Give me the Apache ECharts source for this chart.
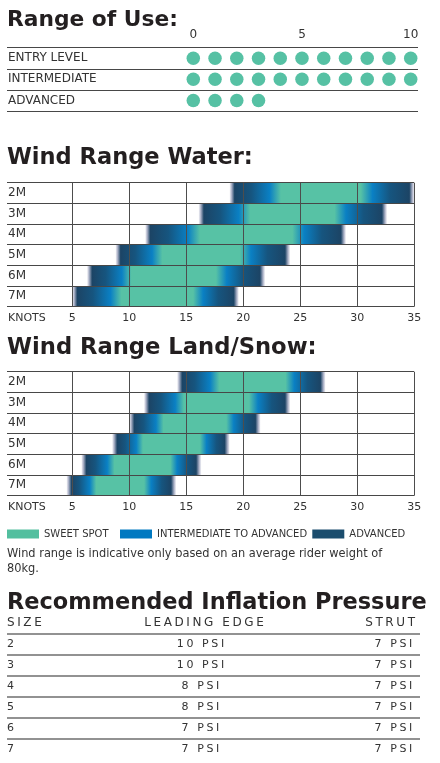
<!DOCTYPE html>
<html><head><meta charset="utf-8">
<script src="https://cdn.jsdelivr.net/npm/echarts@6/dist/echarts.min.js"></script>
<style>html,body{margin:0;padding:0;background:#fff}#wrap{position:relative;width:440px;height:763px}#c{position:absolute;left:0;top:0;width:440px;height:763px}#t{position:absolute;left:0;top:612px;width:440px;height:151px}</style>
</head><body><div id="wrap"><div id="c"></div><div id="t"></div></div>
<script>
// ---------- DATA ----------
const ROU_LEVELS = ['ENTRY LEVEL', 'INTERMEDIATE', 'ADVANCED'];
const ROU_VALUES = [10, 10, 3];          // dots from 0 up to this value
const KITE_SIZES = ['2M', '3M', '4M', '5M', '6M', '7M'];
// Water wind ranges (knots)
const WATER_START       = [18.8, 16.1, 11.4, 8.8, 6.3, 5.0];
const WATER_SWEET_START = [23.3, 20.6, 16.2, 12.9, 10.2, 9.3];
const WATER_SWEET_END   = [30.3, 28.0, 24.3, 19.7, 17.6, 15.6];
const WATER_END         = [35.0, 32.6, 29.0, 24.1, 21.9, 19.6];
// Land / snow wind ranges (knots)
const LAND_START       = [14.2, 11.3, 10.0, 8.5, 5.8, 4.5];
const LAND_SWEET_START = [17.9, 14.8, 13.0, 11.2, 8.7, 7.1];
const LAND_SWEET_END   = [23.7, 20.5, 18.5, 16.2, 13.6, 11.3];
const LAND_END         = [27.2, 24.1, 21.5, 18.8, 16.3, 14.1];
const LEGEND_NAMES = ['SWEET SPOT', 'INTERMEDIATE TO ADVANCED', 'ADVANCED'];
const TABLE_SIZES = ['2', '3', '4', '5', '6', '7'];
const LEADING_EDGE_PSI = [10, 10, 8, 8, 7, 7];
const STRUT_PSI = [7, 7, 7, 7, 7, 7];
const TABLE_HEADERS = ['SIZE', 'LEADING EDGE', 'STRUT'];
const NOTE = 'Wind range is indicative only based on an average rider weight of\n80kg.';

// ---------- STYLE ----------
const FONT = '"DejaVu Sans", sans-serif';
const TEAL = '#57c2a5', BLUE = '#0a80c4', NAVY = '#1b4d6e';
const LINE = '#474747', TXT = '#333333', TITLE = '#231f20';
const TRACK = 2.6; // letter spacing used in the table

const mctx = document.createElement('canvas').getContext('2d');
function fitSize(text, weight, target) {
  mctx.font = weight + ' 100px "DejaVu Sans"';
  return 100 * target / mctx.measureText(text).width;
}

function barStops(xs, xt1, xt2, xe) {
  const W = xe - xs;
  const L = xt1 - xs, R = xe - xt2;
  const raw = [
    [xs, '#f4f4f8'],
    [xs + 2, '#aab0c6'],
    [xs + 5, '#1c4465'],
    [xs + Math.max(6, L * 0.42), '#16557f'],
    [xs + L * 0.78, BLUE],
    [xt1, TEAL],
    [xt2, TEAL],
    [xt2 + R * 0.22, BLUE],
    [xe - Math.max(6, R * 0.45), '#16557f'],
    [xe - 5, '#1c4465'],
    [xe - 2, '#aab0c6'],
    [xe, '#f4f4f8']
  ];
  let prev = 0;
  return raw.map(([x, c]) => {
    let o = Math.min(1, Math.max(0, (x - xs) / W));
    if (o < prev) o = prev;
    prev = o;
    return { offset: o, color: c };
  });
}

function renderBar(params, api) {
  const row = api.value(0);
  const s = api.value(1), t1 = api.value(2), t2 = api.value(3), e = api.value(4);
  const ps = api.coord([s, row]), pt1 = api.coord([t1, row]), pt2 = api.coord([t2, row]), pe = api.coord([e, row]);
  const h = api.size([0, 1])[1];
  return {
    type: 'rect',
    shape: { x: ps[0], y: ps[1] - h / 2, width: pe[0] - ps[0], height: h },
    style: { fill: new echarts.graphic.LinearGradient(0, 0, 1, 0, barStops(ps[0], pt1[0], pt2[0], pe[0])) }
  };
}

function windData(st, ss, se, en) {
  return KITE_SIZES.map((k, i) => [i, st[i], ss[i], se[i], en[i]]);
}

const dots = [];
ROU_VALUES.forEach((v, i) => { for (let k = 0; k <= v; k++) dots.push([k, i]); });

// ---------- LAYOUT ----------
const ROU_TOP = 47.7, ROU_H = 63.3;
const W_TOP = 182.7, L_TOP = 371.7, WIND_H = 124;

function labelGrid(top, h, right) { return { left: 7, right: right, top: top, height: h }; }

const hiddenX = (gi) => ({ type: 'value', gridIndex: gi, show: false, min: 0, max: 1 });
const rowAxis = (gi, cats, showLabels, z) => ({
  type: 'category', gridIndex: gi, data: cats, inverse: true, z: z || 0,
  axisLine: { show: false }, axisTick: { show: false },
  axisLabel: { show: showLabels, inside: true, margin: 1, color: TXT, fontFamily: FONT, fontSize: 12 },
  splitLine: { show: showLabels, lineStyle: { color: LINE, width: 1 } }
});
const windX = (gi) => ({
  type: 'value', gridIndex: gi, min: 5, max: 35, interval: 5, z: 10,
  axisLine: { show: false }, axisTick: { show: false },
  axisLabel: { color: TXT, fontFamily: FONT, fontSize: 11, margin: 6 },
  splitLine: { show: true, lineStyle: { color: '#4d4d4d', width: 1 } }
});

const titleText = (txt, y, target) => ({
  type: 'text', silent: true,
  style: { text: txt, x: 7, y: y, fill: TITLE, fontFamily: FONT, fontWeight: 'bold',
    fontSize: fitSize(txt, 'bold', target), align: 'left', verticalAlign: 'middle' }
});
const plainText = (txt, x, y, size, align) => ({
  type: 'text', silent: true,
  style: { text: txt, x: x, y: y, fill: TXT, fontFamily: FONT, fontSize: size, align: align || 'left', verticalAlign: 'middle' }
});

const legendItem = (name, left) => ({
  data: [name], left: left, top: 529, padding: 0, itemWidth: 32, itemHeight: 9, itemGap: 5,
  icon: 'rect', selectedMode: false,
  textStyle: { color: TXT, fontFamily: FONT, fontSize: 10, padding: [1, 0, 0, 0] }
});

const option = {
  animation: false,
  backgroundColor: '#ffffff',
  textStyle: { fontFamily: FONT },
  grid: [
    labelGrid(ROU_TOP, ROU_H, 22),                                   // 0 range-of-use rows
    { left: 193.3, right: 29.3, top: ROU_TOP, height: ROU_H },       // 1 dots
    labelGrid(W_TOP, WIND_H, 26),                                    // 2 water rows
    { left: 72.3, right: 25.7, top: W_TOP, height: WIND_H },         // 3 water bars
    labelGrid(L_TOP, WIND_H, 26),                                    // 4 land rows
    { left: 72.3, right: 25.7, top: L_TOP, height: WIND_H }          // 5 land bars
  ],
  xAxis: [
    hiddenX(0),
    { type: 'value', gridIndex: 1, min: 0, max: 10, interval: 5, position: 'top',
      axisLine: { show: false }, axisTick: { show: false }, splitLine: { show: false },
      axisLabel: { color: TXT, fontFamily: FONT, fontSize: 12, margin: 7 } },
    hiddenX(2),
    windX(3),
    hiddenX(4),
    windX(5)
  ],
  yAxis: [
    rowAxis(0, ROU_LEVELS, true, 5),
    rowAxis(1, ROU_LEVELS, false),
    rowAxis(2, KITE_SIZES, true, 10),
    rowAxis(3, KITE_SIZES, false),
    rowAxis(4, KITE_SIZES, true, 10),
    rowAxis(5, KITE_SIZES, false)
  ],
  legend: [
    legendItem(LEGEND_NAMES[0], 7),
    legendItem(LEGEND_NAMES[1], 120),
    legendItem(LEGEND_NAMES[2], 312.3)
  ],
  series: [
    { type: 'scatter', name: 'Range of use', xAxisIndex: 1, yAxisIndex: 1, data: dots,
      symbol: 'circle', symbolSize: 13.5, itemStyle: { color: '#56c1a4', opacity: 1 }, silent: true },
    { type: 'custom', name: 'Water', xAxisIndex: 3, yAxisIndex: 3, renderItem: renderBar,
      data: windData(WATER_START, WATER_SWEET_START, WATER_SWEET_END, WATER_END), z: 2, silent: true },
    { type: 'custom', name: 'Land', xAxisIndex: 5, yAxisIndex: 5, renderItem: renderBar,
      data: windData(LAND_START, LAND_SWEET_START, LAND_SWEET_END, LAND_END), z: 2, silent: true },
    { type: 'bar', name: LEGEND_NAMES[0], xAxisIndex: 3, yAxisIndex: 3, data: [], itemStyle: { color: '#53bf9f' } },
    { type: 'bar', name: LEGEND_NAMES[1], xAxisIndex: 3, yAxisIndex: 3, data: [], itemStyle: { color: '#0079c1' } },
    { type: 'bar', name: LEGEND_NAMES[2], xAxisIndex: 3, yAxisIndex: 3, data: [], itemStyle: { color: NAVY } }
  ],
  graphic: [
    titleText('Range of Use:', 20, 171),
    titleText('Wind Range Water:', 158.5, 246),
    titleText('Wind Range Land/Snow:', 348, 310),
    titleText('Recommended Inflation Pressure', 603.5, 420),
    plainText('KNOTS', 8, 318.5, 11),
    plainText('KNOTS', 8, 507.5, 11),
    { type: 'text', silent: true,
      style: { text: NOTE, x: 7, y: 547, fill: TXT, fontFamily: FONT,
        fontSize: fitSize(NOTE.split('\n')[0], 'normal', 376), lineHeight: 15, align: 'left', verticalAlign: 'top' } }
  ]
};

const chart = echarts.init(document.getElementById('c'), null, { renderer: 'canvas' });
chart.setOption(option);

// ---------- TABLE (separate instance, tracked lettering) ----------
const TT = 612; // table div top
const LE_COL = 0.4685, STRUT_COL = 0.9815; // column anchors on the table's x scale

function renderCell(params, api) {
  const p = api.coord([api.value(0), api.value(1)]);
  const right = params.seriesIndex === 1;
  return {
    type: 'text',
    x: right ? p[0] + TRACK : p[0] + TRACK / 2,
    y: p[1],
    style: { text: api.value(2) + ' PSI', fill: TXT, fontFamily: FONT, fontSize: 11,
      align: right ? 'right' : 'center', verticalAlign: 'middle' }
  };
}

const tableOption = {
  animation: false,
  grid: [{ left: 7, right: 20, top: 633.3 - TT, height: 126 }],
  xAxis: [{ type: 'value', min: 0, max: 1, show: false }],
  yAxis: [
    { type: 'category', data: TABLE_SIZES, inverse: true,
      axisLine: { show: false }, axisTick: { show: false }, splitLine: { show: false },
      axisLabel: { inside: true, margin: 0, color: TXT, fontFamily: FONT, fontSize: 11 } },
    { type: 'value', min: 0, max: 6, interval: 1, inverse: true, position: 'right',
      axisLine: { show: false }, axisTick: { show: false }, axisLabel: { show: false },
      splitLine: { show: true, showMaxLine: false, lineStyle: { color: '#6e6e6e', width: 1.6 } } }
  ],
  series: [
    { type: 'custom', name: 'Leading edge', renderItem: renderCell, silent: true,
      data: LEADING_EDGE_PSI.map((v, i) => [LE_COL, i, v]) },
    { type: 'custom', name: 'Strut', renderItem: renderCell, silent: true,
      data: STRUT_PSI.map((v, i) => [STRUT_COL, i, v]) }
  ],
  graphic: [
    { type: 'text', silent: true, style: { text: TABLE_HEADERS[0], x: 7, y: 622.5 - TT, fill: TXT,
      fontFamily: FONT, fontSize: 12, align: 'left', verticalAlign: 'middle' } },
    { type: 'text', silent: true, style: { text: TABLE_HEADERS[1], x: 204 + TRACK / 2, y: 622.5 - TT, fill: TXT,
      fontFamily: FONT, fontSize: 12, align: 'center', verticalAlign: 'middle' } },
    { type: 'text', silent: true, style: { text: TABLE_HEADERS[2], x: 415 + TRACK, y: 622.5 - TT, fill: TXT,
      fontFamily: FONT, fontSize: 12, align: 'right', verticalAlign: 'middle' } }
  ]
};
const table = echarts.init(document.getElementById('t'), null, { renderer: 'canvas' });
table.setOption(tableOption);
try {
  const zr = table.getZr();
  zr.flush && zr.flush();
  const cv = document.querySelector('#t canvas');
  const ctx = cv && cv.getContext('2d');
  if (ctx && ('letterSpacing' in ctx)) {
    ctx.letterSpacing = TRACK + 'px';
    zr.painter.refresh(true);
  }
} catch (e) { console.error(e); }
</script>
</body></html>
